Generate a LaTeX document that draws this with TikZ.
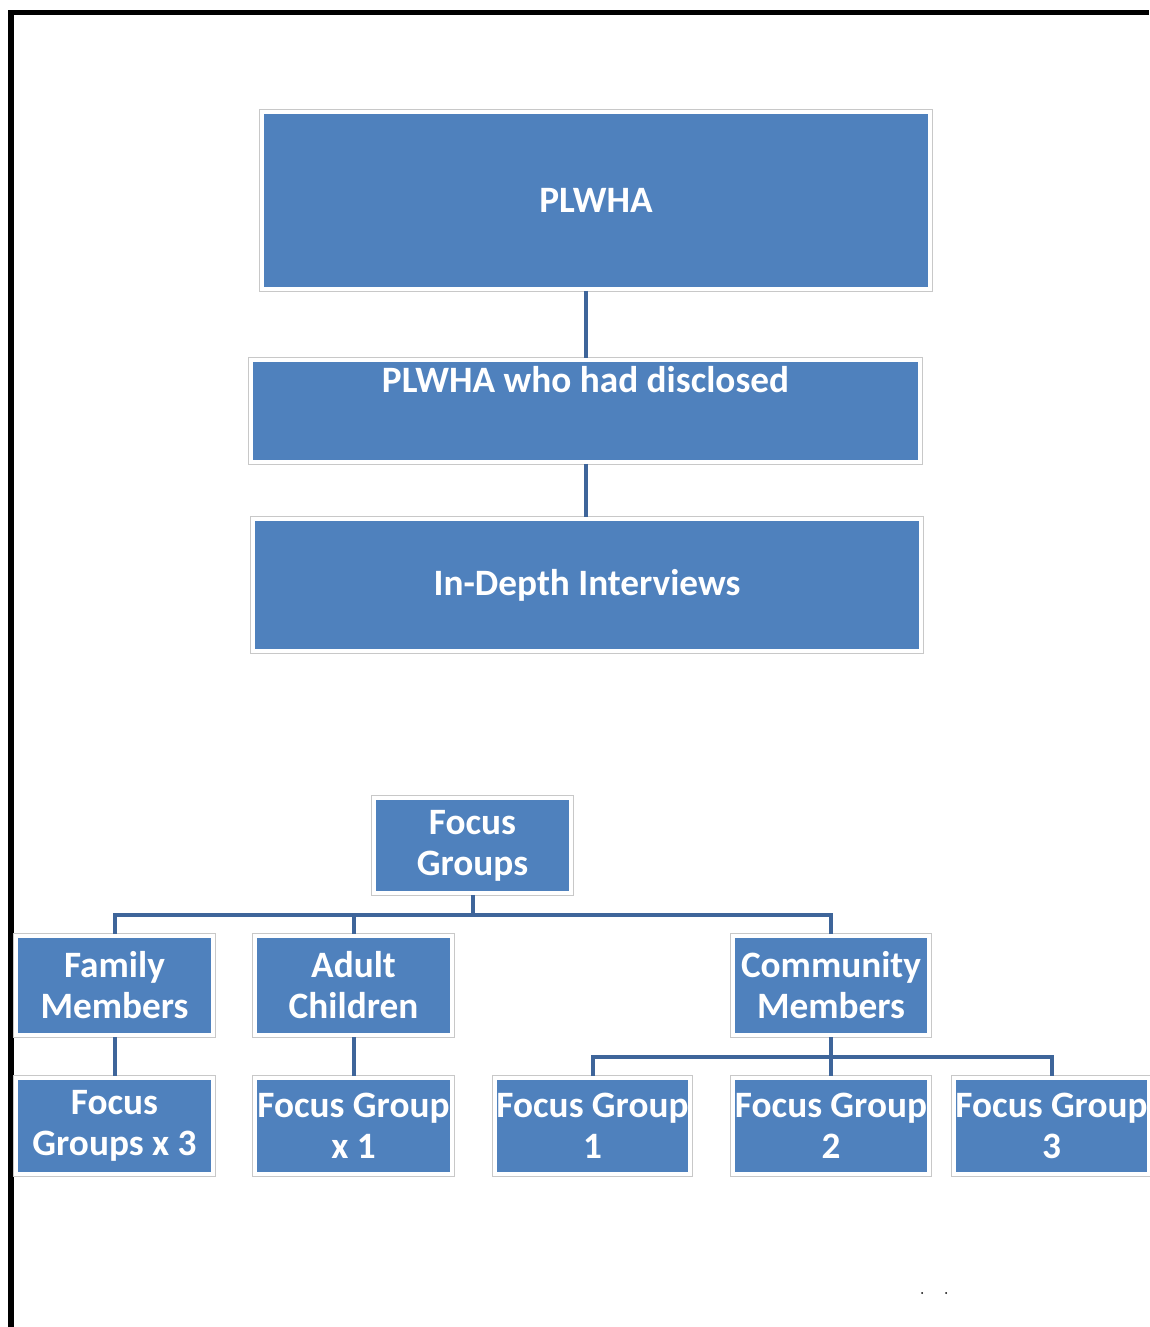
\documentclass[tikz,border=0pt]{standalone}
\usepackage{fontspec}
\setmainfont{Carlito}
\usetikzlibrary{positioning, calc}
\definecolor{boxblue}{RGB}{79,129,189}
\definecolor{linkblue}{RGB}{62,101,154}
\definecolor{framegray}{RGB}{200,200,200}
\tikzset{
  box/.style  = {fill=boxblue, draw=white, line width=0.08cm,
                 preaction={draw=framegray, line width=0.12cm},
                 text=white, align=center, inner sep=0pt,
                 font=\fontsize{21.2}{23.3}\selectfont\bfseries},
  link/.style = {draw=linkblue, line width=0.08cm},
}

\begin{document}
\begin{tikzpicture}[x=0.02cm, y=-0.02cm]
\useasboundingbox (0,0) rectangle (1149,1327);

% frame lines, top and left
\fill[black] (8,10) rectangle (1149,15);
\fill[black] (8,10) rectangle (14,1327);

% interviews column
\node[box, minimum width=13.36cm, minimum height=3.54cm] (plwha) at (596,200.5) {PLWHA};
\node[box, minimum width=13.38cm, text height=0.64cm, text depth=1.4cm] (disc) at (585.5,411) {PLWHA who had disclosed};
\node[box, minimum width=13.36cm, minimum height=2.64cm] (intv) at (587,585) {In-Depth Interviews};

\draw[link] (plwha.south -| disc.north) -- (disc.north);
\draw[link] (disc.south) -- (disc.south |- intv.north);

% focus group tree
\node[box, minimum width=3.94cm, minimum height=1.9cm] (fg) at (472.5,845.5) {Focus\\Groups};

\node[box, minimum width=3.94cm, minimum height=1.98cm] (fam)   at (114.5,985.5) {Family\\Members};
\node[box, minimum width=3.94cm, minimum height=1.98cm] (adult) at (353.5,985.5) {Adult\\Children};
\node[box, minimum width=3.92cm, minimum height=1.98cm] (comm)  at (831,985.5)   {Community\\Members};

\node[box, minimum width=3.94cm, minimum height=1.92cm] (famfg)   at (114.5,1126) {Focus\\Groups x 3};
\node[box, minimum width=3.94cm, minimum height=1.92cm] (adultfg) at (353.5,1126) {Focus Group\\x 1};
\node[box, minimum width=3.9cm,  minimum height=1.92cm] (commfga) at (592.5,1126) {Focus Group\\1};
\node[box, minimum width=3.92cm, minimum height=1.92cm] (commfgb) at (831,1126)   {Focus Group\\2};
\node[box, minimum width=3.9cm,  minimum height=1.92cm] (commfgc) at (1051.5,1126) {Focus Group\\3};

\path (fg.south) ++(0,20) coordinate (fgbus);
\draw[link] (fg.south) -- (fgbus);
\foreach \n in {fam,adult,comm}
  \draw[link] (fgbus) -| (\n.north);

\draw[link] (fam.south) -- (famfg.north);
\draw[link] (adult.south) -- (adultfg.north);

\path (comm.south) ++(0,20) coordinate (commbus);
\draw[link] (comm.south) -- (commbus);
\foreach \n in {commfga,commfgb,commfgc}
  \draw[link] (commbus) -| (\n.north);

% stray dots near the bottom
\fill[black] (922,1293) circle (1);
\fill[black] (946,1293) circle (1);
\end{tikzpicture}
\end{document}
